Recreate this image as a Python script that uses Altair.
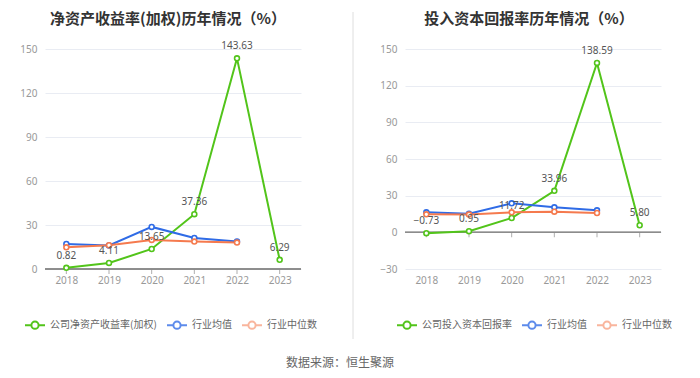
import altair as alt
import pandas as pd

years = ["2018", "2019", "2020", "2021", "2022", "2023"]
avg_years = ["2018", "2019", "2020", "2021", "2022"]

roe_name = "公司净资产收益率(加权)"
roe_company = [0.82, 4.11, 13.65, 37.36, 143.63, 6.29]
roe_mean = [17.1, 16.0, 28.7, 21.2, 18.7]
roe_median = [14.8, 16.2, 19.8, 18.7, 18.0]

roic_name = "公司投入资本回报率"
roic_company = [-0.73, 0.95, 11.72, 33.96, 138.59, 5.80]
roic_mean = [16.4, 15.3, 23.7, 20.5, 18.0]
roic_median = [14.7, 14.5, 16.4, 16.9, 15.8]

mean_name = "行业均值"
median_name = "行业中位数"

GREEN = "#52c41a"
BLUE = "#2f6be6"
ORANGE = "#f57a4e"
AXIS_GRAY = "#999999"
GRID = "#e9ecf3"

LEGEND_PATH = ("M-1,0L-0.36,0M1,0L0.36,0"
               "M0.36,0A0.36,0.36,0,1,1,-0.36,0A0.36,0.36,0,1,1,0.36,0")


def panel(title, cname, company, mean, median, ydomain, yvalues, legend_x, divider, title_dx):
    rows = []
    for y, v in zip(years, company):
        rows.append({"year": y, "value": v, "series": cname})
    for y, v in zip(avg_years, mean):
        rows.append({"year": y, "value": v, "series": mean_name})
    for y, v in zip(avg_years, median):
        rows.append({"year": y, "value": v, "series": median_name})
    df = pd.DataFrame(rows)
    domain = [cname, mean_name, median_name]

    legend = alt.Legend(
        title=None, orient="none", direction="horizontal", columns=3,
        legendX=legend_x, legendY=265,
        symbolType=LEGEND_PATH, symbolSize=400, symbolStrokeWidth=2,
        symbolFillColor="white",
        labelFont="Noto Sans CJK SC", labelFontSize=10, labelColor="#666666",
        labelOffset=4, columnPadding=6,
    )
    color = alt.Color("series:N", scale=alt.Scale(domain=domain, range=[GREEN, BLUE, ORANGE]),
                      legend=legend)
    xenc = alt.X("year:O", scale=alt.Scale(type="point", padding=0.5, domain=years),
                 axis=alt.Axis(title=None, labelAngle=0, domain=False, ticks=False,
                               labelColor=AXIS_GRAY, labelFontSize=10, labelPadding=6,
                               labelFont="Noto Sans"))
    yenc = alt.Y("value:Q", scale=alt.Scale(domain=ydomain, nice=False, zero=False),
                 axis=alt.Axis(title=None, values=yvalues, domain=False, ticks=False,
                               gridColor=GRID, labelColor=AXIS_GRAY, labelFontSize=10,
                               labelPadding=8, minExtent=37, maxExtent=37,
                               labelOverlap=False, labelFont="Noto Sans"))

    base = alt.Chart(df)
    zero_df = pd.DataFrame({"year": years, "value": [0] * len(years)})
    zero_rule = alt.Chart(zero_df).mark_rule(color="#8c8c8c", strokeWidth=1).encode(
        y=yenc)
    ticks = alt.Chart(zero_df).mark_tick(orient="vertical", color="#8c8c8c", size=5,
                                         thickness=1, yOffset=2.5).encode(x=xenc, y=yenc)

    lines = base.mark_line(strokeWidth=2).encode(x=xenc, y=yenc, color=color)
    pts = base.mark_point(filled=False, fill="white", fillOpacity=1, size=24, strokeWidth=1.6,
                          opacity=1).encode(x=xenc, y=yenc, color=color)
    leg = base.mark_point(size=0).encode(
        x=xenc, y=yenc, color=color,
        opacity=alt.Opacity("series:N", scale=alt.Scale(domain=domain, range=[1, 0.55, 0.55]),
                            legend=legend),
    ).transform_filter("false")
    labels = base.transform_filter(alt.datum.series == cname).mark_text(
        dy=-12, fontSize=10, color="#555555", font="Noto Sans").encode(
        x=xenc, y=yenc, text=alt.Text("value:Q", format=".2f"))

    # vertical separator between the two panels (invisible twin in the left panel
    # keeps both panels' bounds, and thus their titles, aligned)
    div = alt.Chart(zero_df).mark_rule(color="#eeeeee", strokeWidth=1,
                                       strokeOpacity=1 if divider else 0).encode(
        x=alt.value(-52 if divider else 0), y=alt.value(-37), y2=alt.value(290))

    ch = alt.layer(div, zero_rule, ticks, lines, pts, leg, labels).properties(
        width=256, height=220,
        title=alt.TitleParams(title, fontSize=15, font="Noto Sans CJK SC", fontWeight="bold",
                              color="#333333", anchor="middle", frame="group", offset=-15,
                              dx=title_dx),
    )
    return ch


left = panel("净资产收益率(加权)历年情况（%）", roe_name, roe_company, roe_mean, roe_median,
             [0, 150], [0, 30, 60, 90, 120, 150], -21, False, -5)
right = panel("投入资本回报率历年情况（%）", roic_name, roic_company, roic_mean, roic_median,
              [-30, 150], [-30, 0, 30, 60, 90, 120, 150], -9, True, -4)

chart = alt.hconcat(left, right, spacing=35).resolve_scale(
    color="independent", opacity="independent"
).properties(
    padding={"left": 0, "top": 3, "right": 0, "bottom": 0},
    title=alt.TitleParams("数据来源：恒生聚源", orient="bottom", anchor="middle",
                          fontSize=12, font="Noto Sans CJK SC", fontWeight="normal",
                          color="#666666", offset=18),
).configure_view(stroke=None)

chart.save("out.html", embed_options={"renderer": "svg", "actions": False})
